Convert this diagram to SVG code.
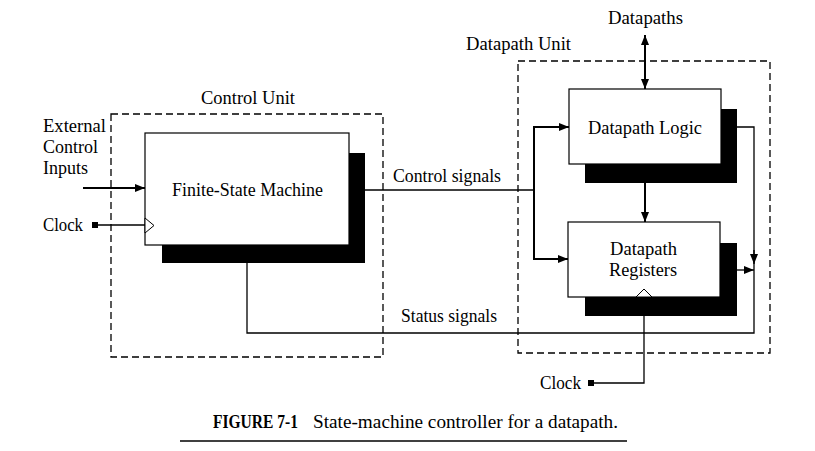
<svg xmlns="http://www.w3.org/2000/svg" width="815" height="451" viewBox="0 0 815 451">
<style>
text{font-family:"Liberation Serif","Times New Roman",serif;font-size:18px;fill:#000}
.dash{fill:none;stroke:#000;stroke-width:1.3;stroke-dasharray:7,4}
.box{fill:#fff;stroke:#000;stroke-width:1.2}
.sh{fill:#000}
.w{fill:none;stroke:#000;stroke-width:1.3}
.a{fill:none;stroke:#000;stroke-width:2}
.clk{fill:#fff;stroke:#000;stroke-width:1}
</style>
<defs>
<marker id="ah" viewBox="0 0 10 10" refX="10" refY="5" markerWidth="10" markerHeight="10" markerUnits="userSpaceOnUse" orient="auto-start-reverse">
<path d="M0,1 L10,5 L0,9 z" fill="#000"/>
</marker>
</defs>
<rect x="0" y="0" width="815" height="451" fill="#fff"/>

<g id="control-unit">
<rect class="dash" x="111" y="114" width="272" height="243"/>
<text x="201" y="104" textLength="94" lengthAdjust="spacingAndGlyphs">Control Unit</text>
</g>
<g id="datapath-unit">
<rect class="dash" x="518" y="61" width="252" height="292"/>
<text x="466" y="50" textLength="105" lengthAdjust="spacingAndGlyphs">Datapath Unit</text>
</g>

<g id="connectors">
<line class="a" x1="83" y1="188" x2="145" y2="188" marker-end="url(#ah)"/>
<line class="w" x1="95" y1="225" x2="145" y2="225"/>
<rect x="92" y="222" width="6" height="6" fill="#000"/>
<polyline class="w" points="365,190 534,190"/>
<polyline class="a" points="534,190 534,127 569,127" marker-end="url(#ah)"/>
<polyline class="a" points="534,190 534,259 568,259" marker-end="url(#ah)"/>
<line class="a" x1="645" y1="35" x2="645" y2="89" marker-start="url(#ah)" marker-end="url(#ah)"/>
<line class="a" x1="645" y1="183" x2="645" y2="222" marker-end="url(#ah)"/>
<polyline class="w" points="737,127 754,127 754,270"/>
<line class="w" x1="754" y1="250" x2="754" y2="264" marker-end="url(#ah)"/>
<line class="w" x1="737" y1="270" x2="754" y2="270" marker-end="url(#ah)"/>
<polyline class="w" points="754,270 754,333 247,333 247,263"/>
<polyline class="w" points="644,297 644,383 592,383"/>
<rect x="588" y="380" width="6" height="6" fill="#000"/>
<text x="393" y="182" textLength="108" lengthAdjust="spacingAndGlyphs">Control signals</text>
<text x="401" y="322" textLength="96" lengthAdjust="spacingAndGlyphs">Status signals</text>
<text x="43" y="132" textLength="63" lengthAdjust="spacingAndGlyphs">External</text>
<text x="43" y="153" textLength="55" lengthAdjust="spacingAndGlyphs">Control</text>
<text x="43" y="174" textLength="45" lengthAdjust="spacingAndGlyphs">Inputs</text>
<text x="43" y="231" textLength="40" lengthAdjust="spacingAndGlyphs">Clock</text>
<text x="540" y="389" textLength="41" lengthAdjust="spacingAndGlyphs">Clock</text>
<text x="608" y="24" textLength="75" lengthAdjust="spacingAndGlyphs">Datapaths</text>
</g>

<g id="fsm">
<rect class="sh" x="162" y="153" width="203" height="110"/>
<rect class="box" x="145" y="133" width="204" height="112"/>
<polygon class="clk" points="145,218 154,225.5 145,233"/>
<text x="172" y="196" textLength="151" lengthAdjust="spacingAndGlyphs">Finite-State Machine</text>
</g>

<g id="datapath-logic">
<rect class="sh" x="585" y="109" width="152" height="74"/>
<rect class="box" x="569" y="89" width="152" height="75"/>
<text x="588" y="134" textLength="114" lengthAdjust="spacingAndGlyphs">Datapath Logic</text>
</g>

<g id="datapath-registers">
<rect class="sh" x="585" y="243" width="152" height="73"/>
<rect class="box" x="568" y="222" width="152" height="75"/>
<polygon class="clk" points="636,297 644,289 652,297"/>
<text x="610" y="255" textLength="67" lengthAdjust="spacingAndGlyphs">Datapath</text>
<text x="609" y="276" textLength="68" lengthAdjust="spacingAndGlyphs">Registers</text>
</g>

<g id="caption">
<text x="213" y="428" font-weight="bold" textLength="85" lengthAdjust="spacingAndGlyphs">FIGURE 7-1</text>
<text x="313" y="428" textLength="305" lengthAdjust="spacingAndGlyphs">State-machine controller for a datapath.</text>
<line x1="180" y1="441" x2="627" y2="441" stroke="#000" stroke-width="1.3"/>
</g>
</svg>
